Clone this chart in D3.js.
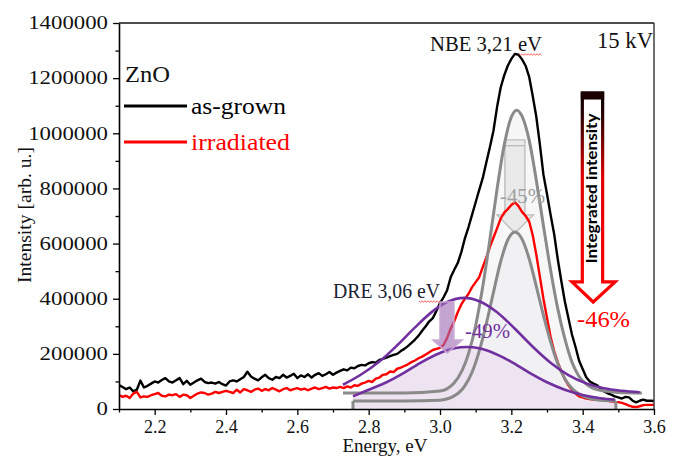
<!DOCTYPE html>
<html><head><meta charset="utf-8">
<script src="https://cdn.jsdelivr.net/npm/d3@7/dist/d3.min.js"></script>
<style>body{margin:0;background:#fff}svg{display:block}</style>
</head><body>
<svg id="c" width="673" height="462"></svg>
<script>
// ---------------- DATA ----------------
const energy = [2.10,2.11,2.12,2.13,2.14,2.15,2.16,2.17,2.18,2.19,
2.20,2.21,2.22,2.23,2.24,2.25,2.26,2.27,2.28,2.29,
2.30,2.31,2.32,2.33,2.34,2.35,2.36,2.37,2.38,2.39,
2.40,2.41,2.42,2.43,2.44,2.45,2.46,2.47,2.48,2.49,
2.50,2.51,2.52,2.53,2.54,2.55,2.56,2.57,2.58,2.59,
2.60,2.61,2.62,2.63,2.64,2.65,2.66,2.67,2.68,2.69,
2.70,2.71,2.72,2.73,2.74,2.75,2.76,2.77,2.78,2.79,
2.80,2.81,2.82,2.83,2.84,2.85,2.86,2.87,2.88,2.89,
2.90,2.91,2.92,2.93,2.94,2.95,2.96,2.97,2.98,2.99,
3.00,3.01,3.02,3.03,3.04,3.05,3.06,3.07,3.08,3.09,
3.10,3.11,3.12,3.13,3.14,3.15,3.16,3.17,3.18,3.19,
3.20,3.21,3.22,3.23,3.24,3.25,3.26,3.27,3.28,3.29,
3.30,3.31,3.32,3.33,3.34,3.35,3.36,3.37,3.38,3.39,
3.40,3.41,3.42,3.43,3.44,3.45,3.46,3.47,3.48,3.49,
3.50,3.51,3.52,3.53,3.54,3.55,3.56,3.57,3.58,3.59,3.60];

// intensities in thousands (arb. u.)
const asGrown = [87,80,72,78,64,70,103,78,84,92,
100,96,105,112,100,96,104,112,90,102,
88,96,104,110,98,94,96,92,98,90,
85,100,104,100,108,116,135,118,110,104,
115,124,112,106,116,112,124,114,120,128,
112,122,116,126,114,124,130,120,126,134,
124,132,138,144,140,150,148,156,160,158,
166,170,168,178,182,186,192,196,200,210,
218,228,240,252,266,284,300,318,330,356,
384,405,431,478,505,530,570,620,660,705,
750,795,838,895,950,1010,1095,1165,1210,1245,
1270,1288,1285,1268,1245,1205,1135,1060,960,850,
780,705,635,545,465,390,330,270,225,175,
145,115,100,92,87,75,64,57,52,46,
42,38,44,42,30,24,30,34,30,30,29];

const irradiated = [51,44,48,40,56,62,42,46,44,50,
54,58,48,46,52,50,54,44,52,50,
40,48,56,60,58,52,56,62,58,62,
66,62,58,70,60,72,68,62,70,74,
66,72,68,76,70,64,72,76,68,72,
76,70,74,68,74,78,72,76,80,74,
78,76,80,76,82,78,86,84,92,96,
102,98,110,114,124,126,136,134,146,150,
156,162,170,176,184,190,198,206,214,218,
222,232,258,292,318,352,380,400,418,442,
460,478,515,550,588,622,655,690,712,725,
740,750,736,715,700,680,630,560,480,400,
330,262,210,170,138,108,86,70,56,46,
42,38,36,34,34,33,32,30,28,26,
25,22,18,12,8,7,10,14,15,15,15];

// NBE fit, as-grown (grey, large)
const nbeGrownE = [2.728,2.90,3.00,3.04,3.08,3.10,3.12,3.14,3.16,3.18,3.20,3.215,3.23,3.25,3.27,3.29,3.31,3.33,3.35,3.37,3.39,3.41,3.43,3.47,3.50,3.566];
const nbeGrownV = [58,58,65,95,201,303,445,616,798,957,1059,1084,1062,975,830,665,505,365,255,170,118,90,75,64,60,58];
// NBE fit, irradiated (grey, small)
const nbeIrrE = [2.756,2.90,3.00,3.05,3.07,3.09,3.11,3.13,3.15,3.17,3.19,3.21,3.23,3.25,3.27,3.29,3.31,3.33,3.35,3.37,3.41,3.45,3.493];
const nbeIrrV = [29,29,32,56,85,134,210,310,424,534,613,642,616,545,445,340,245,165,110,75,42,32,30];
// DRE fit, as-grown (purple, upper)
const dreGrownE = [2.728,2.78,2.83,2.88,2.93,2.98,3.02,3.068,3.11,3.16,3.21,3.26,3.31,3.36,3.41,3.46,3.51,3.56];
const dreGrownV = [88,126,172,231,296,355,388,403,391,351,291,226,168,123,93,75,66,61];
// DRE fit, irradiated (purple, lower)
const dreIrrE = [2.756,2.80,2.85,2.90,2.95,3.00,3.04,3.075,3.11,3.15,3.20,3.25,3.30,3.35,3.40,3.45,3.49];
const dreIrrV = [46,70,97,132,171,203,220,225,220,203,171,132,97,70,51,39,34];

const xTickValues = [2.2,2.4,2.6,2.8,3.0,3.2,3.4,3.6];
const xTickLabels = ["2.2","2.4","2.6","2.8","3.0","3.2","3.4","3.6"];
const xMinor = [2.1,2.3,2.5,2.7,2.9,3.1,3.3,3.5];
const yTickValues = [0,200000,400000,600000,800000,1000000,1200000,1400000];
const yTickLabels = ["0","200000","400000","600000","800000","1000000","1200000","1400000"];
const yMinor = [100000,300000,500000,700000,900000,1100000,1300000];

const seriesNames = ["as-grown","irradiated"];
const seriesColors = ["#000000","#ff0000"];

// ---------------- CHART ----------------
const serif = "'Liberation Serif','Times New Roman',serif";
const svg = d3.select("#c");
const L=119, R=654, T=23, B=409;
const x = d3.scaleLinear().domain([2.1,3.6]).range([L,R]);
const y = d3.scaleLinear().domain([0,1400000]).range([B,T]);
const K = 1000;

const defs = svg.append("defs");
defs.append("clipPath").attr("id","plot").append("rect")
  .attr("x",L).attr("y",T).attr("width",R-L).attr("height",B-T);
const grad = defs.append("linearGradient").attr("id","redGrad")
  .attr("x1",0).attr("y1",0).attr("x2",0).attr("y2",1);
grad.append("stop").attr("offset","0%").attr("stop-color","#000");
grad.append("stop").attr("offset","12%").attr("stop-color","#300000");
grad.append("stop").attr("offset","40%").attr("stop-color","#e00000");
grad.append("stop").attr("offset","100%").attr("stop-color","#ff0000");

const pts = (E,V) => E.map((e,i)=>[e,V[i]*K]);
const smooth = d3.line().x(d=>x(d[0])).y(d=>y(d[1])).curve(d3.curveMonotoneX);
const lin = d3.line().x(d=>x(d[0])).y(d=>y(d[1]));
const areaTo = (base) => d3.area().x(d=>x(d[0])).y0(y(base)).y1(d=>y(d[1])).curve(d3.curveMonotoneX);

const plot = svg.append("g").attr("clip-path","url(#plot)");

const G1 = pts(nbeGrownE,nbeGrownV), G2 = pts(nbeIrrE,nbeIrrV);
const P1 = pts(dreGrownE,dreGrownV), P2 = pts(dreIrrE,dreIrrV);

// fills
plot.append("path").attr("d",areaTo(nbeGrownV[0]*K)(G1)).attr("fill","#f7f7f7");
plot.append("path").attr("d",areaTo(0)(G2)).attr("fill","#f1f0f3");
plot.append("path").attr("d",areaTo(0)(P2)).attr("fill","#eee3f0");

// grey arrow (NBE -45%)
const gA = {l:3.182,r:3.238,top:976000,base:704000,hl:3.160,hr:3.262,tip:638000,cx:3.21};
plot.append("path").attr("d",lin([[gA.l,gA.top],[gA.r,gA.top],[gA.r,gA.base],[gA.hr,gA.base],[gA.cx,gA.tip],[gA.hl,gA.base],[gA.l,gA.base]])+"Z")
  .attr("fill","rgba(215,215,215,0.4)").attr("stroke","#bdbdbd").attr("stroke-width",1.4);
plot.append("path").attr("d",lin([[gA.l,955000],[gA.r,955000]])).attr("stroke","#bdbdbd").attr("stroke-width",1.4);

// measured curves
[asGrown, irradiated].forEach((vals,i)=>{
  plot.append("path").attr("d",lin(pts(energy,vals))).attr("fill","none")
    .attr("stroke",seriesColors[i]).attr("stroke-width",2.4).attr("stroke-linejoin","round");
});

// grey fits
plot.append("path").attr("d",smooth(G1)).attr("fill","none").attr("stroke","#8a8a8a").attr("stroke-width",3);
plot.append("path").attr("d",smooth(G2)).attr("fill","none").attr("stroke","#8a8a8a").attr("stroke-width",3);
[[nbeIrrE[0]],[nbeIrrE[nbeIrrE.length-1]]].forEach(e=>{
  plot.append("path").attr("d",lin([[e[0],0],[e[0],nbeIrrV[0]*K]])).attr("stroke","#8a8a8a").attr("stroke-width",3);
});
// purple fits
plot.append("path").attr("d",smooth(P1)).attr("fill","none").attr("stroke","#7030a0").attr("stroke-width",2.6);
plot.append("path").attr("d",smooth(P2)).attr("fill","none").attr("stroke","#7030a0").attr("stroke-width",2.6);

// purple arrow (DRE -49%)
const pA = {l:3.0,r:3.039,top:388000,base:250000,hl:2.980,hr:3.062,tip:203000,cx:3.0205};
plot.append("path").attr("d",lin([[pA.l,pA.top],[pA.r,pA.top],[pA.r,pA.base],[pA.hr,pA.base],[pA.cx,pA.tip],[pA.hl,pA.base],[pA.l,pA.base]])+"Z")
  .attr("fill","rgba(160,110,180,0.62)").attr("stroke","#c9a9d3").attr("stroke-width",1.5);

// red "Integrated intensity" arrow
const rA = {l:3.399,r:3.456,top:1146000,base:461000,hl:3.370,hr:3.491,tip:388000,cx:3.4295};
svg.append("path").attr("d",lin([[rA.l,rA.top],[rA.r,rA.top],[rA.r,rA.base],[rA.hr,rA.base],[rA.cx,rA.tip],[rA.hl,rA.base],[rA.l,rA.base]])+"Z")
  .attr("fill","#fff").attr("stroke","url(#redGrad)").attr("stroke-width",3.2).attr("stroke-linejoin","miter");
svg.append("rect").attr("x",x(rA.l)-1.5).attr("y",y(rA.top)-1.5).attr("width",x(rA.r)-x(rA.l)+3).attr("height",8).attr("fill","#1a0000");
svg.append("text").attr("transform",`translate(${x(3.44)},${y(800000)}) rotate(-90)`)
  .attr("text-anchor","middle").attr("font-family","Lato,'Open Sans',sans-serif").attr("font-weight","bold")
  .attr("font-size",14.5).attr("textLength",150).attr("lengthAdjust","spacingAndGlyphs").text("Integrated intensity");

// axes
const yAxis = svg.append("g").attr("transform",`translate(${L},0)`)
  .call(d3.axisLeft(y).tickValues(yTickValues).tickSize(6).tickSizeOuter(0).tickPadding(5).tickFormat((d,i)=>yTickLabels[i]));
svg.append("g").attr("transform",`translate(${L},0)`)
  .call(d3.axisLeft(y).tickValues(yMinor).tickSize(3.5).tickSizeOuter(0).tickFormat(""))
  .select(".domain").remove();
yAxis.attr("font-family",serif);
yAxis.selectAll("text").attr("font-family",serif).attr("font-size",18).attr("fill","#111")
  .attr("textLength",d=>yTickLabels[yTickValues.indexOf(d)].length*11.4).attr("lengthAdjust","spacingAndGlyphs");

const xAxis = svg.append("g").attr("transform",`translate(0,${B})`)
  .call(d3.axisBottom(x).tickValues(xTickValues).tickSize(6).tickSizeOuter(0).tickPadding(5).tickFormat((d,i)=>xTickLabels[i]));
svg.append("g").attr("transform",`translate(0,${B})`)
  .call(d3.axisBottom(x).tickValues(xMinor).tickSize(3.5).tickSizeOuter(0).tickFormat(""))
  .select(".domain").remove();
xAxis.attr("font-family",serif);
xAxis.selectAll("text").attr("font-family",serif).attr("font-size",18).attr("fill","#111");
svg.selectAll(".domain").attr("stroke","#000").attr("stroke-width",1.6);
svg.selectAll(".tick line").attr("stroke","#000").attr("stroke-width",1.3);

// frame top/right
svg.append("line").attr("x1",L).attr("x2",R).attr("y1",T).attr("y2",T).attr("stroke","#111").attr("stroke-width",1.6);
svg.append("line").attr("x1",R).attr("x2",R).attr("y1",T).attr("y2",B).attr("stroke","#333").attr("stroke-width",1.4);

// axis titles
svg.append("text").attr("transform","translate(31,215) rotate(-90)").attr("text-anchor","middle")
  .attr("font-family",serif).attr("font-size",19).attr("textLength",136).attr("lengthAdjust","spacingAndGlyphs")
  .attr("fill","#111").text("Intensity [arb. u.]");
svg.append("text").attr("x",385).attr("y",452).attr("text-anchor","middle")
  .attr("font-family",serif).attr("font-size",19).attr("textLength",85).attr("lengthAdjust","spacingAndGlyphs")
  .attr("fill","#111").text("Energy, eV");

// legend
const txt = (s,xx,yy,size,len,col)=>svg.append("text").attr("x",xx).attr("y",yy).attr("font-family",serif)
  .attr("font-size",size).attr("textLength",len).attr("lengthAdjust","spacingAndGlyphs").attr("fill",col).text(s);
txt("ZnO",125,82,23,45,"#111");
seriesNames.forEach((n,i)=>{
  const yy = [106,142][i];
  svg.append("line").attr("x1",124).attr("x2",187).attr("y1",yy).attr("y2",yy).attr("stroke",seriesColors[i]).attr("stroke-width",3);
  txt(n,191,yy+8,23,[95,99][i],seriesColors[i]);
});

// annotations
txt("15 kV",597,48,23,56,"#111");
txt("NBE 3,21 eV",430,51,20,112,"#111");
txt("DRE 3,06 eV",333,298,20,107,"#1c2333");
txt("-45%",500,203,20,45,"#a0a0a0");
txt("-49%",465,338,20,45,"#7030a0");
txt("-46%",577,327,24,53,"#ff0000");

// spell-check squiggles under "eV"
function squiggle(x0,x1,yy){
  const p=[]; let k=0;
  for(let xx=x0;xx<=x1;xx+=1.5){p.push([xx, yy+(k%2?1.2:-0.2)]);k++;}
  svg.append("path").attr("d",d3.line()(p)).attr("fill","none").attr("stroke","#ff3030").attr("stroke-width",0.8);
}
squiggle(519,542,54);
squiggle(419,440,301);
</script>
</body></html>
